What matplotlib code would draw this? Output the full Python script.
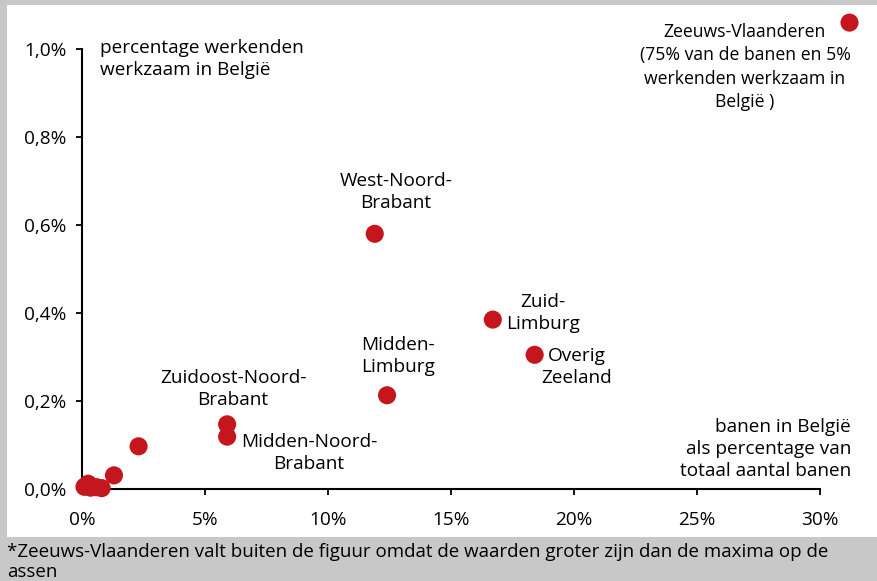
"""Spreidingsdiagram: banen en werkenden in België per grensregio"""
import matplotlib
matplotlib.use("Agg")
import matplotlib.pyplot as plt
import matplotlib.patches as mpatches
from matplotlib.ticker import FuncFormatter

plt.rcParams["font.family"] = ["Open Sans", "DejaVu Sans"]

# banen in België als % van totaal aantal banen, werkenden werkzaam in België (%)
regio = ["Zeeuws-Vlaanderen", "West-Noord-Brabant", "Zuid-Limburg", "Overig Zeeland",
         "Midden-Limburg", "Zuidoost-Noord-Brabant", "Midden-Noord-Brabant",
         "r8", "r9", "r10", "r11", "r12", "r13", "r14"]
banen = [31.2, 11.9, 16.7, 18.4, 12.4, 5.9, 5.9, 2.3, 1.3, 0.1, 0.25, 0.35, 0.6, 0.8]
werkenden = [1.06, 0.58, 0.385, 0.305, 0.213, 0.147, 0.119, 0.097, 0.031,
             0.005, 0.012, 0.003, 0.004, 0.002]

RED = "#c4161c"
GREY = "#c8c8c8"
FS = 13.7

fig = plt.figure(figsize=(8.77, 5.81), dpi=100)
fig.patch.set_facecolor(GREY)
# wit paneel
fig.add_artist(mpatches.Rectangle((7/877, 44/581), 1, 1 - 44/581 - 5/581,
                                  transform=fig.transFigure, facecolor="white",
                                  edgecolor="none", zorder=-5))

ax = fig.add_axes([82/877, 92/581, 738/877, 440/581])
ax.set_facecolor("none")
ax.scatter(banen, werkenden, s=170, color=RED, edgecolors="none", clip_on=False, zorder=3)

ax.set_xlim(0, 30)
ax.set_ylim(0, 1.0)
ax.set_xticks(range(0, 31, 5))
ax.set_yticks([0, 0.2, 0.4, 0.6, 0.8, 1.0])
ax.xaxis.set_major_formatter(FuncFormatter(lambda v, p: f"{v:.0f}%"))
ax.yaxis.set_major_formatter(FuncFormatter(lambda v, p: f"{v:.1f}%".replace(".", ",")))
ax.tick_params(axis="both", direction="out", length=4, width=1.3, labelsize=FS,
               colors="black")
ax.tick_params(axis="x", pad=12)
ax.tick_params(axis="y", pad=7)
for s in ["top", "right"]:
    ax.spines[s].set_visible(False)
for s in ["left", "bottom"]:
    ax.spines[s].set_linewidth(1.5)

# labels
kw = dict(ha="center", va="center", multialignment="center", fontsize=FS,
          linespacing=1.28)
ax.text(26.95, 0.959, "Zeeuws-Vlaanderen\n(75% van de banen en 5%\nwerkenden werkzaam in\nBelgië )",
        clip_on=False, **{**kw, "fontsize": 12.7, "linespacing": 1.38})
ax.text(12.76, 0.674, "West-Noord-\nBrabant", **kw)
ax.text(18.74, 0.401, "Zuid-\nLimburg", **kw)
ax.text(20.12, 0.277, "Overig\nZeeland", **kw)
ax.text(12.85, 0.303, "Midden-\nLimburg", **kw)
ax.text(6.14, 0.228, "Zuidoost-Noord-\nBrabant", **kw)
ax.text(9.23, 0.081, "Midden-Noord-\nBrabant", **kw)
ax.text(0.73, 0.977, "percentage werkenden\nwerkzaam in België", ha="left", va="center",
        fontsize=FS, linespacing=1.28)
ax.text(31.26, 0.091, "banen in België\nals percentage van\ntotaal aantal banen",
        ha="right", va="center", multialignment="right", fontsize=FS,
        linespacing=1.28, clip_on=False)

fig.text(7/877, 1 - 562/581,
         "*Zeeuws-Vlaanderen valt buiten de figuur omdat de waarden groter zijn dan de maxima op de\nassen",
         ha="left", va="center", fontsize=13.5, linespacing=1.2)

fig.savefig("out.png", dpi=100, facecolor=GREY)
print("Done.")
